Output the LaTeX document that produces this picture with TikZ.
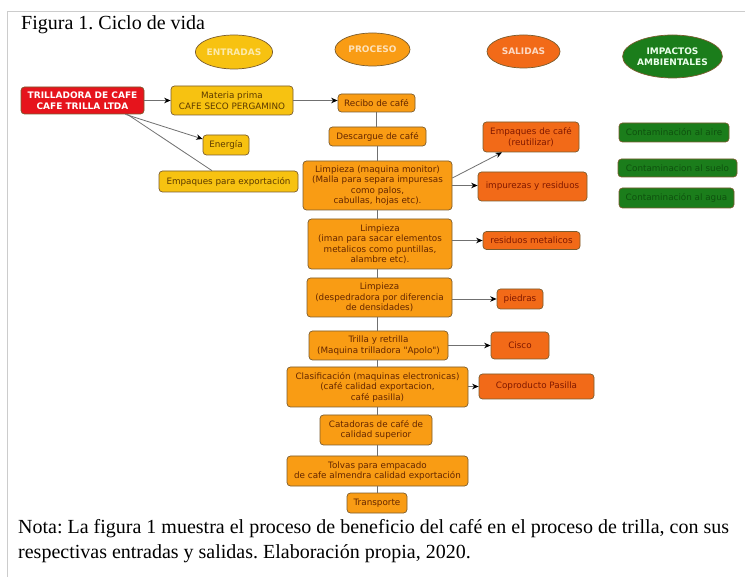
\documentclass[tikz,border=0pt]{standalone}
\usepackage{fontspec}
\setmainfont{Liberation Serif}
\newfontfamily\dv{DejaVu Sans}
\usetikzlibrary{arrows.meta,calc,shapes.geometric}
\frenchspacing
\definecolor{yel}{HTML}{F7C211}
\definecolor{org}{HTML}{F99C14}
\definecolor{sal}{HTML}{F26A18}
\definecolor{grn}{HTML}{1B7D1B}
\definecolor{redb}{HTML}{E6141C}
\definecolor{bord}{HTML}{7A5C2E}
\definecolor{lin}{HTML}{707070}
\definecolor{ytx}{HTML}{5C3A00}
\definecolor{otx}{HTML}{642600}
\definecolor{stx}{HTML}{801800}
\definecolor{gtx}{HTML}{0E520E}
\definecolor{frm}{HTML}{CCCCCC}
\begin{document}
\begin{tikzpicture}[x=1pt,y=-1pt,
 bx/.style={draw=bord, rounded corners=3.5pt, line width=0.7pt, inner sep=0pt, align=center, font=\dv\fontsize{8.8}{10.5}\selectfont},
 yb/.style={bx, fill=yel, text=ytx},
 ob/.style={bx, fill=org, text=otx},
 sb/.style={bx, fill=sal, text=stx},
 gb/.style={bx, fill=grn, text=gtx},
 rb/.style={bx, fill=redb, text=white, font=\dv\bfseries\fontsize{9}{10.5}\selectfont},
 hd/.style={ellipse, draw=bord, line width=0.7pt, inner sep=0pt, align=center, font=\dv\bfseries\fontsize{9}{10.5}\selectfont},
 ln/.style={draw=lin, line width=0.8pt},
 arr/.style={ln, -{Stealth[black,length=6.5pt,width=5.5pt]}},
 frame/.style={draw=frm, line width=1pt}]
\fill[white] (0,0) rectangle (745,577);
\useasboundingbox (0,0) rectangle (745,577);
\coordinate (ftl) at (7,12);
\coordinate (ftr) at (745,12);
\coordinate (fbl) at (7,577);
\draw[frame] (fbl) -- (ftl) -- (ftr);
% title
\node[anchor=base west, inner sep=0pt, font=\fontsize{20}{24}\selectfont] (title) at (21,30) {Figura 1. Ciclo de vida};
% headers
\node[hd, fill=yel, text=yel!35!white, minimum width=74pt, minimum height=34pt] (ent) at (234,52) {ENTRADAS};
\node[hd, fill=org, text=org!30!white, minimum width=75pt, minimum height=33pt] (pro) at (372.5,49.5) {PROCESO};
\node[hd, fill=sal, text=sal!25!white, minimum width=73pt, minimum height=33pt] (sal) at (523.5,51.5) {SALIDAS};
\node[hd, fill=grn, text=white!92!green, minimum width=91pt, minimum height=43pt] (imp) at (672.5,56.5) {IMPACTOS\\AMBIENTALES};
% inputs
\node[rb, minimum width=123pt, minimum height=27pt] (tril) at (82.5,100.5) {TRILLADORA DE CAFE\\CAFE TRILLA LTDA};
\node[yb, minimum width=122pt, minimum height=29pt] (mat) at (232,100.5) {Materia prima\\CAFE SECO PERGAMINO};
\node[yb, minimum width=46pt, minimum height=20pt] (ener) at (226,145) {Energía};
\node[yb, minimum width=139pt, minimum height=21pt] (empx) at (228.5,181.5) {Empaques para exportación};
% process
\node[ob, minimum width=77pt, minimum height=18pt] (rec) at (376.5,103) {Recibo de café};
\node[ob, minimum width=97pt, minimum height=19pt] (desc) at (377.5,136.5) {Descargue de café};
\node[ob, minimum width=149pt, minimum height=49pt] (lim1) at (377.5,185.5) {Limpieza (maquina monitor)\\(Malla para separa impuresas\\como palos,\\cabullas, hojas etc).};
\node[ob, minimum width=144pt, minimum height=50pt] (lim2) at (380,244) {Limpieza\\(iman para sacar elementos\\metalicos como puntillas,\\alambre etc).};
\node[ob, minimum width=145pt, minimum height=39pt] (lim3) at (379.5,297.5) {Limpieza\\(despedradora por diferencia\\de densidades)};
\node[ob, minimum width=139pt, minimum height=29pt] (trr) at (378.5,345.5) {Trilla y retrilla\\(Maquina trilladora "Apolo")};
\node[ob, minimum width=181pt, minimum height=40pt] (clas) at (377.5,387) {Clasificación (maquinas electronicas)\\(café calidad exportacion,\\café pasilla)};
\node[ob, minimum width=112pt, minimum height=30pt] (cata) at (376,430) {Catadoras de café de\\calidad superior};
\node[ob, minimum width=181pt, minimum height=30pt] (tolv) at (377.5,471) {Tolvas para empacado\\de cafe almendra calidad exportación};
\node[ob, minimum width=60pt, minimum height=20pt] (trans) at (377,503) {Transporte};
% outputs
\node[sb, minimum width=96pt, minimum height=30pt] (emc) at (531,137) {Empaques de café\\(reutilizar)};
\node[sb, minimum width=109pt, minimum height=29pt] (impr) at (532.5,186.5) {impurezas y residuos};
\node[sb, minimum width=97pt, minimum height=18pt] (rmet) at (531.5,240.5) {residuos metalicos};
\node[sb, minimum width=46pt, minimum height=20pt] (pied) at (520,299) {piedras};
\node[sb, minimum width=58pt, minimum height=27pt] (cisco) at (520,345.5) {Cisco};
\node[sb, minimum width=115pt, minimum height=25pt] (copr) at (536.5,386.5) {Coproducto Pasilla};
% impacts
\node[gb, minimum width=110pt, minimum height=19pt] (aire) at (674,132.5) {Contaminación al aire};
\node[gb, minimum width=119pt, minimum height=18pt] (suelo) at (677.5,168) {Contaminacion al suelo};
\node[gb, minimum width=115pt, minimum height=20pt] (agua) at (676.5,198) {Contaminación al agua};
% connectors
\draw[arr] (tril.east) -- (mat.west);
\draw[arr] (mat.east) -- (mat.east -| rec.west);
\draw[arr] ([xshift=-19pt]tril.south east) -- ([yshift=6pt]ener.west);
\draw[ln] ([xshift=-17pt]tril.south east) -- ([xshift=-16.5pt]empx.north);
\draw[ln] (rec.south) -- (rec.south |- desc.north);
\draw[ln] (desc.south) -- (desc.south |- lim1.north);
\draw[ln] (lim1.south) -- (lim1.south |- lim2.north);
\draw[ln] (lim2.south -| lim1.south) -- (lim1.south |- lim3.north);
\draw[ln] (lim3.south -| lim1.south) -- (lim1.south |- trr.north);
\draw[ln] (trr.south -| lim1.south) -- (lim1.south |- clas.north);
\draw[ln] (clas.south -| lim1.south) -- (lim1.south |- cata.north);
\draw[ln] (cata.south -| lim1.south) -- (lim1.south |- tolv.north);
\draw[ln] (tolv.south -| lim1.south) -- (lim1.south |- trans.north);
\draw[arr] ([yshift=7.5pt]lim1.east) -- ([xshift=-29pt]emc.south);
\draw[arr] (lim1.east) -- (lim1.east -| impr.west);
\draw[arr] (lim2.east |- rmet.west) -- (rmet.west);
\draw[arr] (lim3.east |- pied.west) -- (pied.west);
\draw[arr] (trr.east |- cisco.west) -- (cisco.west);
\draw[arr] (clas.east |- copr.west) -- (copr.west);
% note
\node[anchor=base west, inner sep=0pt, font=\fontsize{20}{24}\selectfont] (nota1) at (18,533) {Nota: La figura 1 muestra el proceso de beneficio del café en el proceso de trilla, con sus};
\node[anchor=base west, inner sep=0pt, font=\fontsize{20}{24}\selectfont] (nota2) at (18,558) {respectivas entradas y salidas. Elaboración propia, 2020.};
\end{tikzpicture}
\end{document}
